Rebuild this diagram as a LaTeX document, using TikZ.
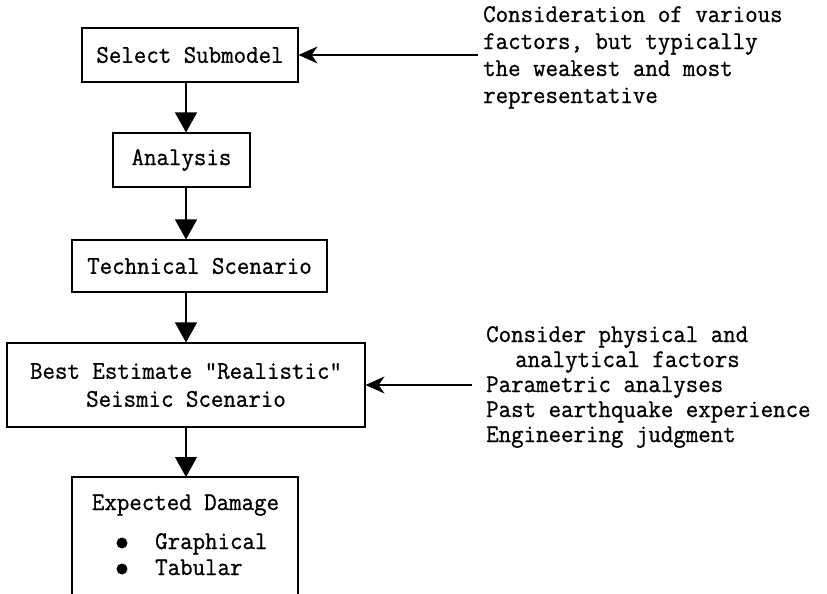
\documentclass[tikz,border=0pt]{standalone}
\usepackage{fontspec}
\setmonofont{Latin Modern Mono}[FakeBold=0.8,FakeStretch=0.95]
\usetikzlibrary{arrows.meta}
\begin{document}
\begin{tikzpicture}[x=1pt,y=-1pt,
  every node/.style={font=\ttfamily\fontsize{25.5}{28}\selectfont, inner sep=0pt},
  box/.style={draw, line width=1.1pt, minimum height=54pt},
  varr/.style={line width=1.1pt, -{Triangle[length=20pt,width=22pt]}},
  harr/.style={line width=1.1pt, -{Stealth[length=19pt,width=17pt,inset=6pt]}},
  lbl/.style={anchor=base west},
  dot/.style={circle, fill, minimum size=11pt}]
\useasboundingbox (0,0) rectangle (827,594);
\coordinate (col) at (186,0);
% boxes
\node[box, minimum width=216pt] (sel) at (190,55) {Select Submodel};
\node[box, minimum width=137pt] (ana) at (181.5,160) {Analysis};
\node[box, minimum width=255pt, minimum height=52pt] (tec) at (199.5,266) {Technical Scenario};
\node[box, minimum width=358pt, minimum height=84pt, align=center] (best) at (186,385)
  {Best Estimate "Realistic"\\Seismic Scenario};
% open bottom box
\coordinate (eTL) at (72,477);
\coordinate (eTR) at (298,477);
\coordinate (eBL) at (72,594);
\coordinate (eBR) at (298,594);
\draw[line width=1.1pt] (eBL) -- (eTL) -- (eTR) -- (eBR);
\node[anchor=base] (exp) at (185.5,510) {Expected Damage};
\node[dot] (b1) at (122,543) {};
\node[lbl] (g1) at (155,549) {Graphical};
\node[dot] (b2) at (122,569) {};
\node[lbl] (g2) at (155,575) {Tabular};
% vertical arrows
\draw[varr] (sel.south -| col) -- (ana.north -| col);
\draw[varr] (ana.south -| col) -- (tec.north -| col);
\draw[varr] (tec.south -| col) -- (best.north -| col);
\draw[varr] (best.south -| col) -- (eTL -| col);
% top right notes
\node[lbl] (c1) at (483,22) {Consideration of various};
\node[lbl] (c2) at (483,49) {factors, but typically};
\node[lbl] (c3) at (483,76) {the weakest and most};
\node[lbl] (c4) at (483,103) {representative};
\coordinate (t1) at (478,55);
\draw[harr] (t1) -- (sel.east);
% bottom right notes
\node[lbl] (d1) at (486,342) {Consider physical and};
\node[lbl] (d2) at (515,367) {analytical factors};
\node[lbl] (d3) at (486,392) {Parametric analyses};
\node[lbl] (d4) at (486,417) {Past earthquake experience};
\node[lbl] (d5) at (486,442) {Engineering judgment};
\coordinate (t2) at (472,385);
\draw[harr] (t2) -- (best.east);
\end{tikzpicture}
\end{document}
